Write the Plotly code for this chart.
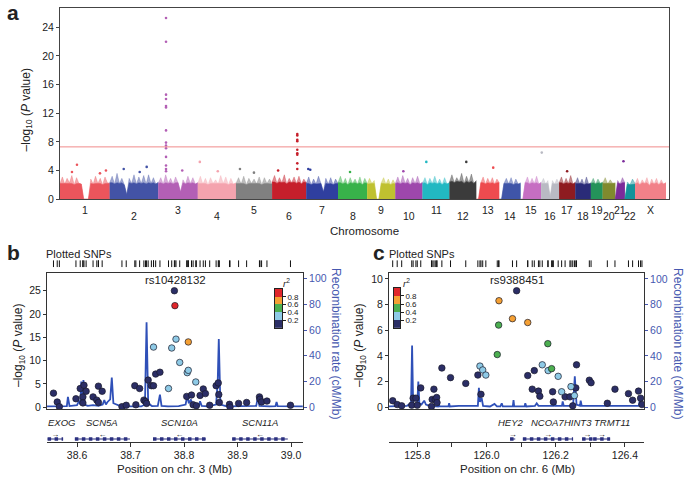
import plotly.graph_objects as go
import numpy as np

W, H = 691, 489
FONT = "Liberation Sans, Arial, Helvetica, sans-serif"

# ---------------- Panel a: Manhattan data ----------------
chrom_names = ['1', '2', '3', '4', '5', '6', '7', '8', '9', '10', '11', '12',
               '13', '14', '15', '16', '17', '18', '19', '20', '21', '22', 'X']
chrom_len_mb = [249, 243, 198, 191, 181, 171, 159, 146, 141, 136, 135, 134,
                115, 107, 103, 90, 81, 78, 59, 63, 48, 51, 155]
chrom_colors = ['#eb555c', '#4353a6', '#b35fb5', '#f4a3ae', '#808080', '#c61f2b',
                '#2f3f9f', '#38b24a', '#bfc130', '#9e47ac', '#22b8c2', '#3b3b3b',
                '#ee4b4f', '#3f55a8', '#c66ec2', '#b9bac3', '#8e1b20', '#2a2b78',
                '#24935a', '#808a2e', '#7b2b9a', '#13939a', '#f28189']
# level up to which each chromosome's SNP cloud is solid
chrom_solid = [2.2, 2.3, 2.3, 2.2, 2.2, 2.4, 2.2, 2.3, 2.2, 2.3, 2.3, 2.5,
               2.3, 2.2, 2.3, 2.2, 2.3, 2.2, 2.3, 2.2, 2.3, 2.1, 2.3]
# upper envelope of the dense SNP cloud per chromosome (read left to right)
chrom_profile = [
    [2.2, 3.1, 2.1, 2.9, 2.3, 3.3, 2.0, 3.0, 2.2, 2.1, 0, 0, 0, 2.8, 2.1, 3.2, 2.2, 2.9, 2.0, 3.1, 2.3, 2.2],
    [2.3, 3.2, 2.1, 3.6, 2.2, 2.9, 2.0, 0.6, 2.9, 2.2, 3.4, 2.1, 3.1, 2.2, 3.3, 2.1, 3.4, 2.2, 3.0, 2.1, 2.4],
    [2.2, 3.0, 2.1, 3.4, 2.2, 2.9, 2.1, 3.1, 2.3, 1.0, 2.7, 2.1, 3.2, 2.2, 3.0, 2.1, 2.3],
    [2.2, 3.2, 2.1, 2.9, 2.0, 3.0, 2.2, 2.7, 2.1, 3.3, 2.2, 3.1, 2.0, 2.9, 2.1, 2.3],
    [2.2, 3.0, 2.1, 3.2, 2.0, 2.9, 2.2, 2.8, 2.1, 3.1, 2.0, 3.0, 2.2, 2.8, 2.1],
    [2.4, 3.3, 2.2, 3.0, 2.3, 3.4, 2.1, 2.9, 2.3, 3.1, 2.2, 3.2, 2.1, 2.8, 2.3],
    [2.2, 3.1, 2.0, 2.8, 2.1, 3.2, 2.2, 1.0, 2.9, 2.1, 3.0, 2.0, 2.8, 2.2],
    [2.3, 3.2, 2.1, 2.9, 2.0, 3.0, 2.2, 2.8, 2.1, 3.1, 2.0, 2.9, 2.2],
    [2.1, 2.9, 2.2, 2.6, 0, 0, 2.3, 3.0, 2.1, 2.8, 2.0, 2.7, 2.1],
    [2.2, 3.1, 2.1, 3.3, 2.2, 2.9, 2.0, 3.0, 2.2, 3.2, 2.1, 2.4],
    [2.2, 3.0, 2.0, 2.9, 2.2, 3.2, 2.1, 2.8, 2.0, 3.0, 2.1, 2.3],
    [2.4, 3.4, 2.3, 3.0, 2.4, 3.6, 2.2, 3.2, 2.3, 3.5, 2.2, 2.6],
    [0, 0, 2.3, 3.1, 2.1, 2.9, 2.2, 3.0, 2.1, 2.8, 2.3],
    [0, 0, 2.2, 2.9, 2.1, 3.0, 2.0, 2.8, 2.1, 2.3],
    [0, 0, 2.3, 3.1, 2.1, 2.9, 2.2, 3.2, 2.1, 2.4],
    [2.2, 2.9, 2.1, 2.6, 0.3, 2.6, 2.1, 2.8, 2.2],
    [2.3, 3.1, 2.1, 2.9, 2.2, 3.3, 2.1, 2.4],
    [2.2, 3.0, 2.1, 2.8, 2.0, 3.1, 2.1, 2.3],
    [2.2, 2.9, 2.1, 2.8, 2.2, 2.4],
    [2.2, 3.0, 2.1, 2.7, 2.2, 2.3],
    [0, 2.6, 2.1, 3.0, 2.3],
    [0, 2.4, 2.0, 2.8, 2.2],
    [2.1, 2.9, 2.0, 2.7, 2.2, 3.0, 1.9, 2.8, 2.1, 2.9, 2.0, 2.7, 2.1, 2.3],
]
# individual SNPs standing out above the dense background
hit_chrom = ['1', '1', '1', '1', '2', '2', '2',
             '3', '3', '3', '3', '3', '3', '3', '3', '3', '3', '3', '3', '3', '3', '3',
             '4', '4', '5', '5',
             '6', '6', '6', '6', '6', '6', '6', '6', '6', '6',
             '7', '7', '8', '10', '11', '12', '13', '16', '17', '21']
hit_mb = [60, 85, 200, 230, 70, 150, 185,
          38.8, 38.8, 38.8, 38.8, 38.8, 38.8, 38.8, 38.8, 38.8, 38.8, 38.8, 38.8, 38.8, 38.8, 120,
          10, 100, 20, 90,
          126.0, 126.0, 126.0, 126.0, 126.0, 126.0, 126.0, 126.0, 126.0, 30,
          10, 20, 60, 40, 19, 84, 85, 3, 40, 41]
hit_logp = [3.8, 4.8, 3.6, 4.0, 4.2, 3.8, 4.5,
            25.3, 22.0, 14.6, 14.0, 13.0, 12.8, 9.6, 7.9, 7.5, 7.1, 5.9, 4.7, 4.2, 3.9, 4.0,
            5.2, 3.9, 4.2, 3.7,
            9.1, 8.9, 8.3, 8.1, 6.9, 6.4, 6.2, 5.0, 4.2, 4.0,
            4.2, 4.1, 3.8, 3.9, 5.2, 5.2, 4.4, 6.5, 3.9, 5.3]
gw_threshold = 7.3
manhattan_yticks = [0, 4, 8, 12, 16, 20, 24]

# ---------------- Panel b: chr3 locus ----------------
b_snp_mb = [38.556, 38.563, 38.567, 38.598, 38.606, 38.611, 38.611, 38.613, 38.617, 38.630,
            38.637, 38.640, 38.640, 38.647, 38.684, 38.692, 38.708, 38.710, 38.717, 38.725,
            38.728, 38.730, 38.733, 38.739, 38.743, 38.747, 38.755, 38.805, 38.814, 38.817,
            38.823, 38.830, 38.836, 38.840, 38.848, 38.860, 38.864, 38.865, 38.866, 38.885,
            38.886, 38.902, 38.917, 38.941, 38.942, 38.945, 38.955, 38.999,
            38.743, 38.771, 38.777, 38.785, 38.792, 38.806, 38.808, 38.822,
            38.808, 38.783, 38.782]
b_snp_logp = [3.0, 1.1, 0.1, 1.8, 4.0, 2.2, 0.9, 4.7, 3.4, 2.2,
              1.5, 4.5, 1.0, 3.4, 0.1, 0.4, 4.6, 0.5, 4.0, 1.5,
              1.2, 0.8, 5.8, 4.6, 4.6, 7.1, 7.5, 2.3, 2.6, 0.5,
              0.3, 2.5, 3.9, 2.9, 0.4, 4.6, 5.2, 2.7, 1.0, 0.6,
              0.0, 0.8, 1.0, 2.2, 1.7, 1.1, 1.3, 0.4,
              12.9, 4.0, 12.7, 14.6, 9.6, 7.4, 7.9, 5.4,
              14.0, 21.8, 25.0]
b_snp_r2 = [0.1] * 48 + [0.3] * 8 + [0.7, 0.9, 0.1]
b_lead = 'rs10428132'
b_rec_mb = [38.544, 38.570, 38.581, 38.583, 38.586, 38.600, 38.604, 38.606, 38.608, 38.610,
            38.612, 38.614, 38.620, 38.630, 38.640, 38.648, 38.651, 38.654, 38.657, 38.662,
            38.665, 38.668, 38.680, 38.700, 38.720, 38.727, 38.730, 38.733, 38.740, 38.751,
            38.755, 38.758, 38.770, 38.790, 38.803, 38.806, 38.809, 38.813, 38.816, 38.828,
            38.830, 38.833, 38.845, 38.860, 38.863, 38.865, 38.868, 38.880, 38.900, 38.935,
            38.938, 38.941, 38.960, 38.971, 38.973, 38.975, 39.022]
b_rec_rate = [0.5, 0.5, 0.8, 8, 0.8, 1.5, 5, 2, 20, 3,
              21, 2, 1, 1.5, 1, 2, 5.5, 2, 4, 6,
              23, 3, 1, 0.5, 0.5, 2, 66, 3, 0.8, 1,
              9.7, 1, 0.5, 0.8, 2, 9, 3, 6, 1, 1,
              4.6, 1, 0.5, 2, 20, 53, 2, 0.5, 0.5, 1,
              8, 1, 0.5, 0.8, 4, 0.8, 0.5]
b_gene_names = ['EXOG', 'SCN5A', 'SCN10A', 'SCN11A']
b_gene_start = [38.545, 38.596, 38.742, 38.890]
b_gene_end = [38.574, 38.699, 38.841, 38.994]
b_gene_strand = ['+', '-', '-', '-']
b_xticks = [38.6, 38.7, 38.8, 38.9, 39.0]
b_xlabels = ['38.6', '38.7', '38.8', '38.9', '39.0']

# ---------------- Panel c: chr6 locus ----------------
c_snp_mb = [125.729, 125.742, 125.755, 125.784, 125.788, 125.796, 125.800, 125.810, 125.841, 125.843,
            125.848, 125.852, 125.856, 125.857, 125.871, 125.896, 125.940, 125.975, 125.984,
            126.119, 126.132, 126.138, 126.150, 126.154, 126.191, 126.193, 126.227, 126.241, 126.249,
            126.258, 126.260, 126.297, 126.302, 126.349, 126.371, 126.410, 126.422, 126.439, 126.445,
            126.449,
            125.981, 125.989, 125.998, 126.161, 126.178, 126.207, 126.217, 126.244, 126.254,
            126.031, 126.035, 126.177, 126.188,
            126.036, 126.075, 126.119,
            126.087]
c_snp_logp = [0.5, 0.2, 0.1, 0.15, 0.7, 0.7, 0.15, 1.5, 0.05, 0.6,
              1.4, 0.6, 0.75, 0.35, 3.05, 2.3, 1.85, 2.5, 1.0,
              2.46, 1.4, 2.85, 1.25, 0.85, 1.2, 0.4, 0.8, 0.8, 0.1,
              1.5, 3.3, 2.1, 1.9, 0.3, 1.4, 1.05, 0.54, 1.25, 0.7,
              0.2,
              3.2, 2.9, 2.5, 3.3, 2.85, 2.4, 1.2, 1.6, 0.9,
              4.1, 6.4, 4.95, 3.0,
              8.3, 6.9, 6.6,
              9.08]
c_snp_r2 = [0.1] * 40 + [0.3] * 9 + [0.5] * 4 + [0.7] * 3 + [0.1]
c_lead = 'rs9388451'
c_rec_mb = [125.718, 125.760, 125.770, 125.782, 125.785, 125.788, 125.795, 125.800, 125.803, 125.806,
            125.812, 125.820, 125.825, 125.835, 125.860, 125.862, 125.864, 125.890, 125.892, 125.894,
            125.920, 125.975, 125.978, 125.981, 125.986, 125.990, 126.010, 126.023, 126.030, 126.040,
            126.044, 126.047, 126.076, 126.078, 126.080, 126.110, 126.112, 126.115, 126.140, 126.145,
            126.150, 126.170, 126.195, 126.197, 126.200, 126.218, 126.220, 126.223, 126.250, 126.255,
            126.260, 126.270, 126.272, 126.275, 126.320, 126.380, 126.420, 126.440, 126.443, 126.446,
            126.455]
c_rec_rate = [0.5, 0.5, 1, 3, 48, 3, 1, 2, 20, 3,
              2, 5, 2, 1, 0.5, 3, 0.5, 0.5, 3, 0.5,
              1, 1, 15, 4, 7, 1, 0.5, 2.5, 0.5, 0.5,
              3, 0.5, 0.5, 5.5, 0.5, 0.5, 3, 0.5, 1, 3,
              1, 1, 1, 4.5, 1, 1, 4.5, 1, 1, 24,
              2, 1, 5, 1, 1, 0.5, 0.5, 1, 6, 1,
              0.5]
c_gene_names = ['HEY2', 'NCOA7', 'HINT3', 'TRMT11']
c_gene_start = [126.068, 126.105, 126.276, 126.308]
c_gene_end = [126.083, 126.250, 126.306, 126.357]
c_gene_strand = ['+', '+', '+', '+']
c_xticks = [125.8, 125.9, 126.0, 126.1, 126.2, 126.3, 126.4]
c_xlabels = ['125.8', ' ', '126.0', ' ', '126.2', ' ', '126.4']

r2_bins = [0.2, 0.4, 0.6, 0.8]
r2_colors = ['#2b2e66', '#8ecae6', '#4caf50', '#f5a033', '#e0262b']
r2_labels = ['0.2', '0.4', '0.6', '0.8']

# ---------------- styling ----------------
NAVY_GENE = '#2b3080'
REC_COLOR = '#2f50b8'
BLUE_TXT = '#4658b0'
TXT = '#222222'


def px_x(p):
    return p / W


def px_y(p):
    return 1 - p / H


def r2_color(v):
    return r2_colors[sum(v >= b for b in r2_bins)]


def rgba(hexcol, a):
    h = hexcol.lstrip('#')
    return 'rgba(%d,%d,%d,%.2f)' % (int(h[0:2], 16), int(h[2:4], 16), int(h[4:6], 16), a)


fig = go.Figure()

# ---- panel a traces
offsets = np.concatenate([[0], np.cumsum(chrom_len_mb)[:-1]])
chrom_off = dict(zip(chrom_names, offsets))
chrom_col = dict(zip(chrom_names, chrom_colors))
for name, off, ln, col, prof, solid in zip(chrom_names, offsets, chrom_len_mb, chrom_colors,
                                           chrom_profile, chrom_solid):
    xs = off + np.linspace(0, ln, len(prof))
    # sparse upper fringe of the cloud
    fig.add_trace(go.Scatter(x=xs, y=prof, mode='lines', fill='tozeroy', fillcolor=rgba(col, 0.5),
                             line=dict(color=rgba(col, 0.6), width=0.5), hoverinfo='skip',
                             xaxis='x', yaxis='y', showlegend=False))
    # solid core of the cloud
    fig.add_trace(go.Scatter(x=xs, y=np.minimum(prof, solid), mode='lines', fill='tozeroy',
                             fillcolor=col, line=dict(color=col, width=0.5), hoverinfo='skip',
                             xaxis='x', yaxis='y', showlegend=False))
fig.add_trace(go.Scatter(x=[chrom_off[c] + m for c, m in zip(hit_chrom, hit_mb)], y=hit_logp,
                         mode='markers',
                         marker=dict(size=2.6, color=[chrom_col[c] for c in hit_chrom]),
                         xaxis='x', yaxis='y', showlegend=False))
total_mb = float(np.sum(chrom_len_mb))


def locus_traces(xa, yrec, ypts, ysnp, xg, yg, snp_mb, snp_logp, snp_r2, rec_mb, rec_rate,
                 g_names, g_start, g_end, g_strand):
    fig.add_trace(go.Scatter(x=rec_mb, y=rec_rate, mode='lines', line=dict(color=REC_COLOR, width=1.8),
                             xaxis=xa, yaxis=yrec, showlegend=False))
    order = np.argsort(snp_r2, kind='stable')
    xs = [snp_mb[i] for i in order]
    ys = [snp_logp[i] for i in order]
    cs = [r2_color(snp_r2[i]) for i in order]
    fig.add_trace(go.Scatter(x=xs, y=ys, mode='markers',
                             marker=dict(size=6.5, color=cs, line=dict(color='#1a1a2a', width=0.7)),
                             xaxis=xa, yaxis=ypts, showlegend=False))
    fig.add_trace(go.Scatter(x=snp_mb, y=[0] * len(snp_mb), mode='markers',
                             marker=dict(symbol='line-ns-open', size=5, color='#111',
                                         line=dict(color='#111', width=1)),
                             xaxis=xa, yaxis=ysnp, showlegend=False))
    for n, s, e, st in zip(g_names, g_start, g_end, g_strand):
        fig.add_trace(go.Scatter(x=[s, e], y=[0, 0], mode='lines', line=dict(color=NAVY_GENE, width=1.2),
                                 xaxis=xg, yaxis=yg, showlegend=False))
        fig.add_trace(go.Scatter(x=[s, e], y=[0, 0], mode='lines',
                                 line=dict(color=NAVY_GENE, width=3.5, dash='dot'),
                                 xaxis=xg, yaxis=yg, showlegend=False))
        fig.add_trace(go.Scatter(x=[(s + e) / 2], y=[0.85], mode='text',
                                 text=['→' if st == '+' else '←'],
                                 textfont=dict(size=8, color='#111', family=FONT),
                                 xaxis=xg, yaxis=yg, showlegend=False))


locus_traces('x2', 'y2', 'y3', 'y4', 'x3', 'y5', b_snp_mb, b_snp_logp, b_snp_r2, b_rec_mb, b_rec_rate,
             b_gene_names, b_gene_start, b_gene_end, b_gene_strand)
locus_traces('x4', 'y6', 'y7', 'y8', 'x5', 'y9', c_snp_mb, c_snp_logp, c_snp_r2, c_rec_mb, c_rec_rate,
             c_gene_names, c_gene_start, c_gene_end, c_gene_strand)

# r2 legends as small heatmaps
disc_scale = []
for i, col in enumerate(r2_colors):
    disc_scale += [[i / 5, col], [(i + 1) / 5, col]]
for xa, ya in [('x6', 'y10'), ('x7', 'y11')]:
    fig.add_trace(go.Heatmap(z=[[i] for i in range(5)], x=[0], y=list(range(5)), zmin=-0.5, zmax=4.5,
                             colorscale=disc_scale, showscale=False, hoverinfo='skip',
                             xaxis=xa, yaxis=ya))

# ---------------- layout ----------------
tick_font = dict(family=FONT, size=10.5, color=TXT)
blue_font = dict(family=FONT, size=10.5, color=BLUE_TXT)
leg_font = dict(family=FONT, size=8, color=TXT)
hidden = dict(visible=False)

main_y = [px_y(414), px_y(276)]
snp_y = [px_y(270), px_y(263)]
gene_y = [px_y(447), px_y(426)]
bx = [px_x(47), px_x(303)]
cx = [px_x(389), px_x(644)]
b_range = [38.5439, 39.0224]
c_range = [125.7183, 126.4549]

layout = dict(
    width=W, height=H, autosize=False, margin=dict(l=0, r=0, t=0, b=0),
    paper_bgcolor='white', plot_bgcolor='rgba(0,0,0,0)', showlegend=False,
    font=dict(family=FONT, color=TXT),
    # panel a
    xaxis=dict(domain=[px_x(60), px_x(669)], range=[0, total_mb + 15], showline=True, mirror=True,
               linecolor='#444', linewidth=1, showgrid=False, zeroline=False, showticklabels=False,
               ticks='', anchor='y'),
    yaxis=dict(domain=[px_y(201), px_y(7)], range=[0, 26.72], showline=True, mirror=True,
               linecolor='#444', linewidth=1, showgrid=False, zeroline=False, ticks='outside',
               ticklen=3, tickcolor='#444', tickvals=manhattan_yticks, tickfont=tick_font, anchor='x'),
    # panel b
    xaxis2=dict(domain=bx, range=b_range, showline=True, mirror=True, linecolor='#333', linewidth=1,
                showgrid=False, zeroline=False, showticklabels=False, ticks='', anchor='y2'),
    yaxis2=dict(domain=main_y, range=[-1.54, 104.4], side='right', showline=True, mirror=True,
                linecolor='#333', linewidth=1, showgrid=False, zeroline=False, ticks='outside',
                ticklen=3, tickcolor=BLUE_TXT, tickvals=[0, 20, 40, 60, 80, 100], tickfont=blue_font,
                anchor='x2'),
    yaxis3=dict(overlaying='y2', range=[-0.42, 28.8], side='left', showline=False, showgrid=False,
                zeroline=False, ticks='outside', ticklen=3, tickcolor='#333',
                tickvals=[0, 5, 10, 15, 20, 25], tickfont=tick_font, anchor='x2'),
    yaxis4=dict(domain=snp_y, range=[-1, 1], anchor='x2', **hidden),
    xaxis3=dict(domain=bx, range=b_range, showline=True, mirror=False, linecolor='#333', linewidth=1,
                showgrid=False, zeroline=False, ticks='outside', ticklen=4, tickcolor='#333',
                tickvals=b_xticks, ticktext=b_xlabels, tickfont=tick_font, anchor='y5'),
    yaxis5=dict(domain=gene_y, range=[-0.5, 3.5], anchor='x3', **hidden),
    # panel c
    xaxis4=dict(domain=cx, range=c_range, showline=True, mirror=True, linecolor='#333', linewidth=1,
                showgrid=False, zeroline=False, showticklabels=False, ticks='', anchor='y6'),
    yaxis6=dict(domain=main_y, range=[-1.54, 104.6], side='right', showline=True, mirror=True,
                linecolor='#333', linewidth=1, showgrid=False, zeroline=False, ticks='outside',
                ticklen=3, tickcolor=BLUE_TXT, tickvals=[0, 20, 40, 60, 80, 100], tickfont=blue_font,
                anchor='x4'),
    yaxis7=dict(overlaying='y6', range=[-0.154, 10.46], side='left', showline=False, showgrid=False,
                zeroline=False, ticks='outside', ticklen=3, tickcolor='#333',
                tickvals=[0, 2, 4, 6, 8, 10], tickfont=tick_font, anchor='x4'),
    yaxis8=dict(domain=snp_y, range=[-1, 1], anchor='x4', **hidden),
    xaxis5=dict(domain=cx, range=c_range, showline=True, mirror=False, linecolor='#333', linewidth=1,
                showgrid=False, zeroline=False, ticks='outside', ticklen=4, tickcolor='#333',
                tickvals=c_xticks, ticktext=c_xlabels, tickfont=tick_font, anchor='y9'),
    yaxis9=dict(domain=gene_y, range=[-0.5, 3.5], anchor='x5', **hidden),
    # legends
    xaxis6=dict(domain=[px_x(275), px_x(282)], range=[-0.5, 0.5], showline=True, mirror=True,
                linecolor='#222', linewidth=0.6, showticklabels=False, ticks='', showgrid=False,
                zeroline=False, anchor='y10'),
    yaxis10=dict(domain=[px_y(332), px_y(292)], range=[-0.5, 4.5], side='right', showline=True,
                 mirror=True, linecolor='#222', linewidth=0.6, showgrid=False, zeroline=False,
                 ticks='outside', ticklen=3, tickcolor='#222', tickvals=[0.5, 1.5, 2.5, 3.5],
                 ticktext=r2_labels, tickfont=leg_font, anchor='x6'),
    xaxis7=dict(domain=[px_x(394), px_x(400)], range=[-0.5, 0.5], showline=True, mirror=True,
                linecolor='#222', linewidth=0.6, showticklabels=False, ticks='', showgrid=False,
                zeroline=False, anchor='y11'),
    yaxis11=dict(domain=[px_y(332), px_y(291)], range=[-0.5, 4.5], side='right', showline=True,
                 mirror=True, linecolor='#222', linewidth=0.6, showgrid=False, zeroline=False,
                 ticks='outside', ticklen=3, tickcolor='#222', tickvals=[0.5, 1.5, 2.5, 3.5],
                 ticktext=r2_labels, tickfont=leg_font, anchor='x7'),
)
fig.update_layout(**layout)

# genome-wide significance line
fig.add_shape(type='line', xref='x domain', yref='y', x0=0, x1=1, y0=gw_threshold, y1=gw_threshold,
              line=dict(color='#f08a8a', width=1))

ann = []


def A(text, x, y, size=11, color=TXT, angle=0, xanchor='center', yanchor='middle', xref='paper',
      yref='paper', bold=False, xshift=0):
    ann.append(dict(text=('<b>%s</b>' % text) if bold else text, x=x, y=y, xref=xref, yref=yref,
                    showarrow=False, textangle=angle, xanchor=xanchor, yanchor=yanchor, xshift=xshift,
                    font=dict(family=FONT, size=size, color=color)))


# panel letters
A('a', px_x(13), px_y(12), size=21, bold=True)
A('b', px_x(13), px_y(255), size=21, bold=True)
A('c', px_x(379), px_y(255), size=21, bold=True)

# panel a texts
for i, (name, off, ln) in enumerate(zip(chrom_names, offsets, chrom_len_mb)):
    A(name, off + ln / 2, px_y(212 if i % 2 == 0 else 218), size=10.5, xref='x')
A('Chromosome', px_x(364), px_y(233), size=11.5)
ylab = '–log<sub>10</sub> (<i>P</i> value)'
A(ylab, px_x(27), px_y(110), size=12, angle=-90)

# panel b / c texts
for (lead_x, lead, lx, leg_x, title_x, chrn) in [
        (px_x(175), b_lead, px_x(19), px_x(286), px_x(174), '3'),
        (px_x(517), c_lead, px_x(360), px_x(407), px_x(517), '6')]:
    A(lead, lead_x, px_y(283), size=11.5)
    A(ylab, lx, px_y(350), size=12, angle=-90)
    A('<i>r</i><sup>2</sup>', leg_x, px_y(286), size=9.5)
    A('Position on chr. %s (Mb)' % chrn, title_x, px_y(475), size=11.5)

rec_title = 'Recombination rate (cM/Mb)'
A(rec_title, px_x(345), px_y(347), size=12, color=BLUE_TXT, angle=90, xanchor='right')
A(rec_title, px_x(687), px_y(347), size=12, color=BLUE_TXT, angle=90, xanchor='right')

A('Plotted SNPs', px_x(44), px_y(257), size=11, xanchor='left')
A('Plotted SNPs', px_x(387), px_y(257), size=11, xanchor='left')

gene_label_shift = {'EXOG': 6, 'SCN5A': 0, 'SCN10A': 0, 'SCN11A': 0,
                    'HEY2': -2, 'NCOA7': 0, 'HINT3': -9, 'TRMT11': 10}
for xr, yr, gnames, gs, ge in [('x3', 'y5', b_gene_names, b_gene_start, b_gene_end),
                               ('x5', 'y9', c_gene_names, c_gene_start, c_gene_end)]:
    for n, s, e in zip(gnames, gs, ge):
        A('<i>%s</i>' % n, (s + e) / 2, 1.75, size=9.5, xref=xr, yref=yr, xshift=gene_label_shift[n],
          yanchor='bottom')

fig.update_layout(annotations=ann)
# page body without default margin / scrollbars so the 691x489 figure fills the window exactly
page_fix = "document.body.style.margin='0px';document.body.style.overflow='hidden';"
fig.write_html('out.html', post_script=page_fix, config={'displayModeBar': False})
